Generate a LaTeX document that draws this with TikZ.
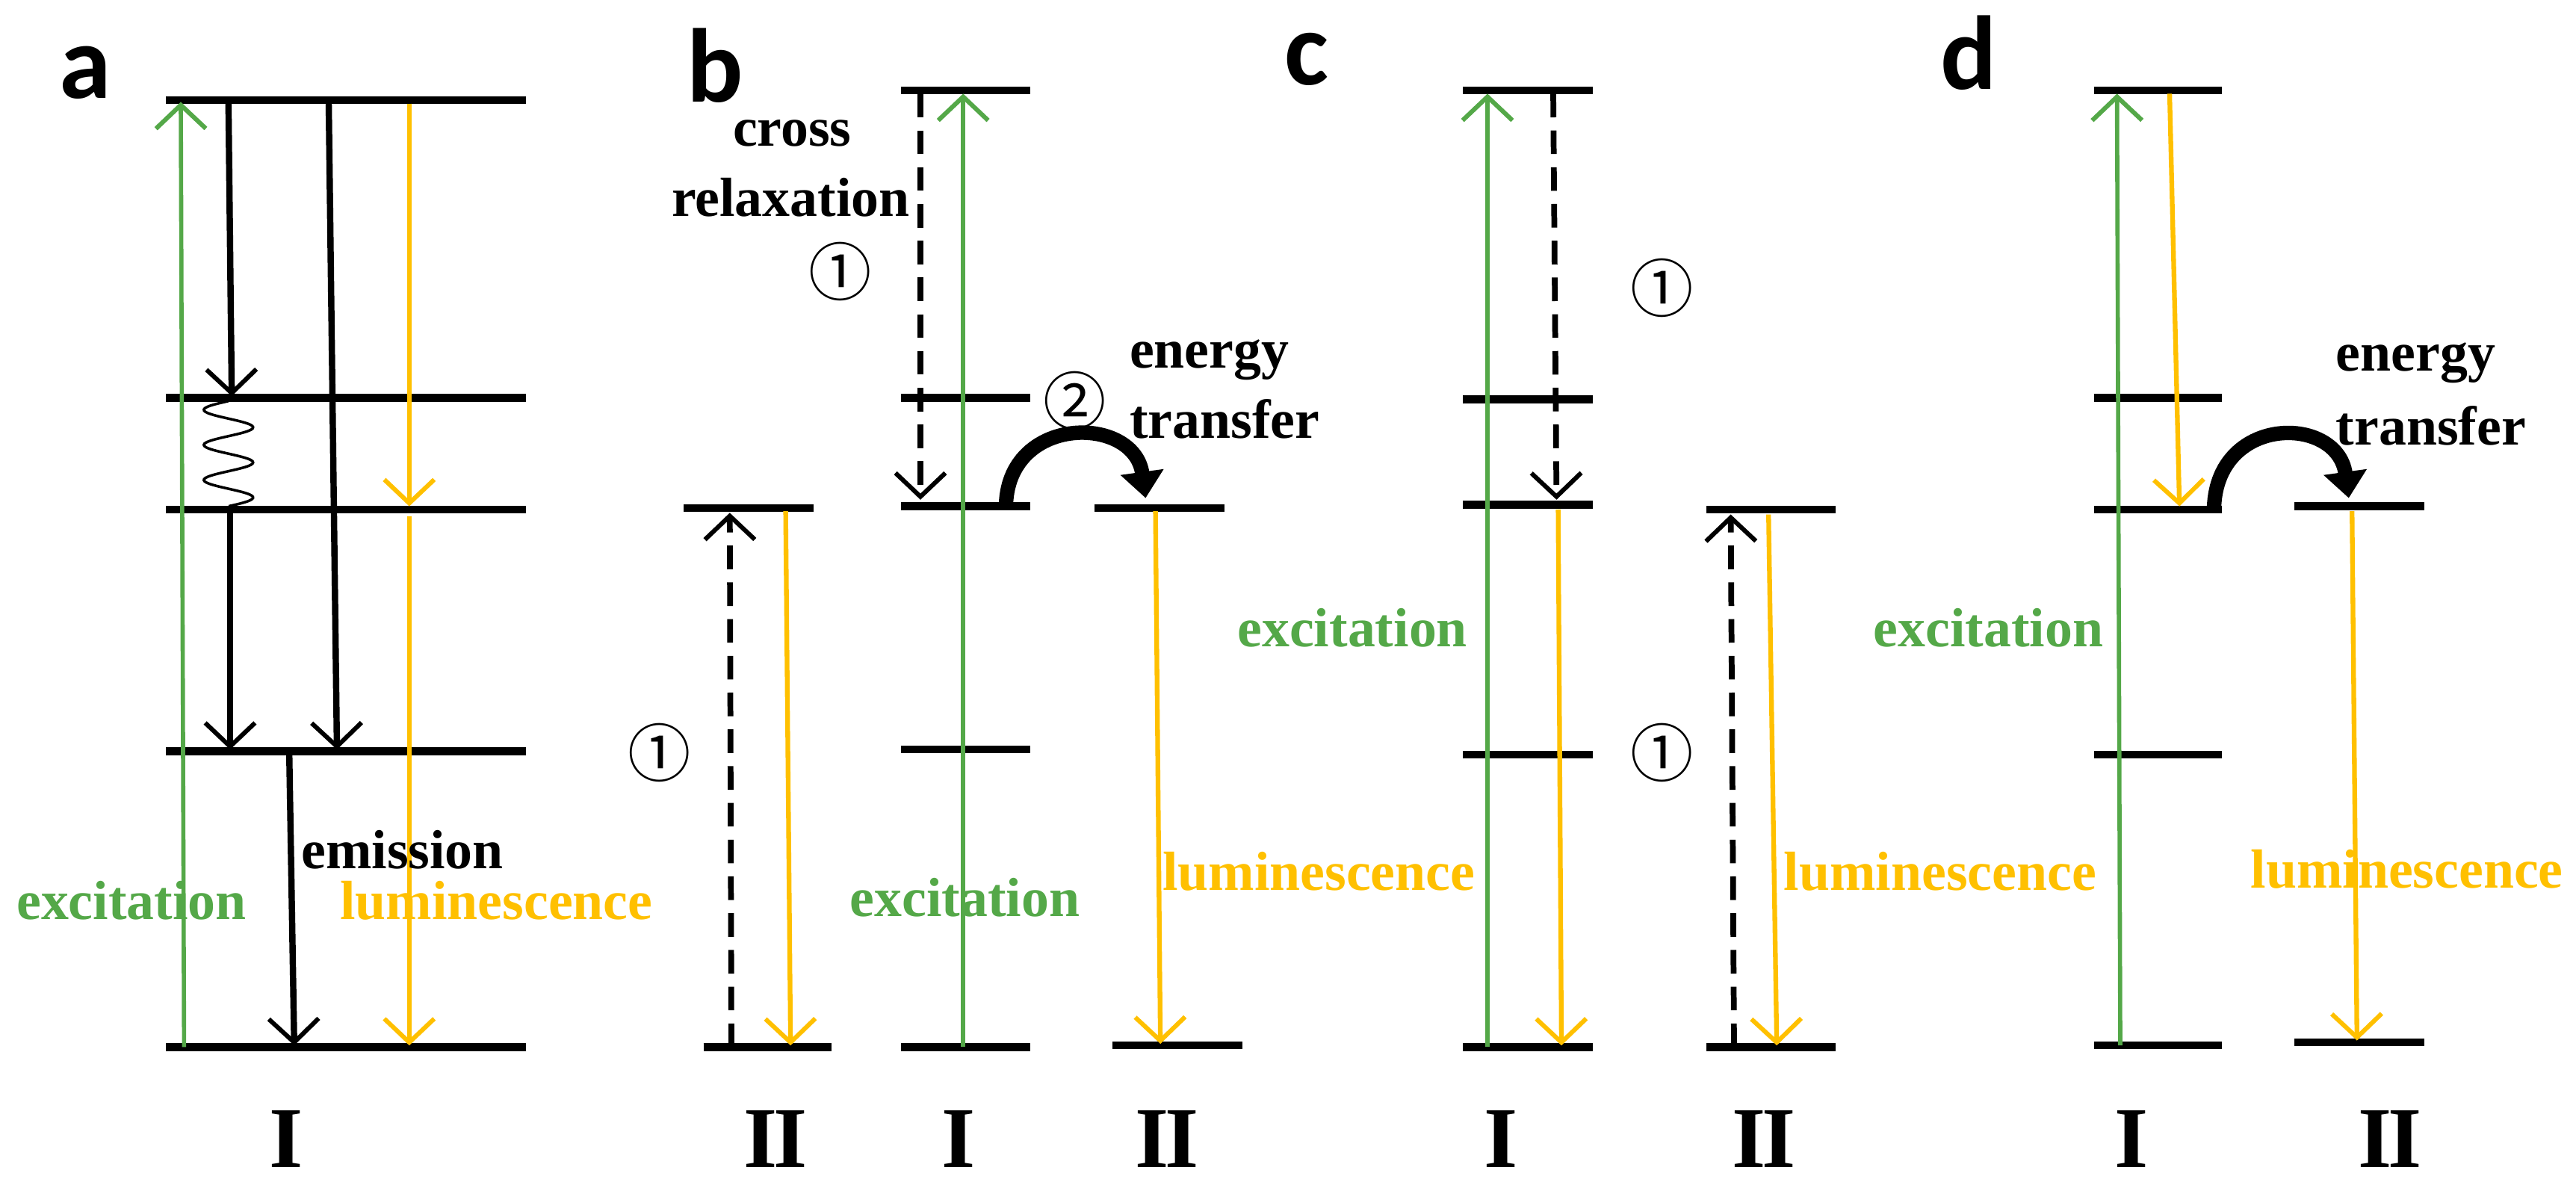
\documentclass[tikz,border=0pt]{standalone}
\usepackage{fontspec}
\setmainfont{Liberation Serif}
\newfontfamily\serb{Liberation Serif Bold}
\newfontfamily\sansb{Carlito Bold}
\newfontfamily\cjk{Noto Sans CJK SC}
\usetikzlibrary{arrows.meta}
\definecolor{gr}{RGB}{84,168,72}
\definecolor{yl}{RGB}{255,192,0}
\begin{document}
\begin{tikzpicture}[x=0.022cm,y=-0.022cm,
  lev/.style={line width=3pt},
  tipv/.style={-{Straight Barb[length=9pt,width=19pt,line width=1.7pt]}},
  exc/.style={gr,line width=1.6pt,tipv},
  lum/.style={yl,line width=1.8pt,tipv},
  blk/.style={black,line width=2.4pt,tipv},
  dsh/.style={black,line width=2.2pt,dash pattern=on 9pt off 5pt,tipv},
  et/.style={line width=5.5pt,-{Triangle[length=10pt,width=16pt]}},
  lbl/.style={font=\serb\fontsize{21}{24}\selectfont,inner sep=0pt},
  num/.style={font=\cjk\fontsize{24}{26}\selectfont,inner sep=0pt},
  pan/.style={font=\sansb\fontsize{40}{42}\selectfont,inner sep=0pt},
  rom/.style={font=\serb\fontsize{33}{36}\selectfont,inner sep=0pt}]
\useasboundingbox (0,0) rectangle (1567.27,720.9);
% ---------- panel a
\node[pan] (la) at (52,44) {a};
\foreach \y in {61,242,310,457,637} \draw[lev] (101,\y) -- (320,\y);
\draw[exc] (112,637) -- (110,62);
\draw[blk] (139,63) -- (141,241);
\draw[black,line width=1pt] plot[smooth,domain=0:1,samples=90] ({139-15*sin(1080*\x)},{244+64*\x});
\draw[blk] (140,312) -- (140,456);
\draw[blk] (200,63) -- (205,456);
\draw[blk] (176,459) -- (179,636);
\draw[lum] (249,63) -- (249,308);
\draw[lum] (249,314) -- (249,636);
\node[lbl,anchor=west] (em) at (183,517) {emission};
\node[lbl,gr] (exa) at (80,548) {excitation};
\node[lbl,yl] (lua) at (302,548) {luminescence};
\node[rom] (ra) at (174,693) {I};
% ---------- panel b
\node[pan] (lb) at (435,40) {b};
\draw[lev] (416,309) -- (495,309);
\draw[lev] (428,637) -- (506,637);
\foreach \y in {55,242,308,456,637} \draw[lev] (548,\y) -- (627,\y);
\draw[lev] (666,309) -- (745,309);
\draw[lev] (677,636) -- (756,636);
\draw[dsh] (445,637) -- (444,312);
\draw[lum] (478,311) -- (481,636);
\draw[exc] (586,637) -- (586,57);
\draw[dsh] (560,57) -- (560,304);
\draw[et] (612,309) .. controls (612,252) and (690,252) .. (697,303);
\draw[lum] (703,311) -- (706,635);
\node[lbl] (cr1) at (482,81) {cross};
\node[lbl] (cr2) at (481,120) {relaxation};
\node[num] (n1b) at (511,165) {①};
\node[num] (n2b) at (654,244) {②};
\node[num] (n3b) at (401,458) {①};
\node[lbl,anchor=west] (eb1) at (687,219) {energy};
\node[lbl,anchor=west] (eb2) at (687,255) {transfer};
\node[lbl,gr] (exb) at (587,546) {excitation};
\node[lbl,yl,anchor=west] (lub) at (707,530) {luminescence};
\node[rom] (rb1) at (472,693) {I\kern-1.5ptI};
\node[rom] (rb2) at (583,693) {I};
\node[rom] (rb3) at (710,693) {I\kern-1.5ptI};
% ---------- panel c
\node[pan] (lc) at (795,36) {c};
\foreach \y in {55,243,307,459,637} \draw[lev] (890,\y) -- (969,\y);
\draw[lev] (1038,310) -- (1117,310);
\draw[lev] (1038,637) -- (1117,637);
\draw[exc] (905,637) -- (905,57);
\draw[dsh] (945,57) -- (947,304);
\draw[lum] (948,310) -- (950,636);
\draw[dsh] (1055,637) -- (1053,313);
\draw[lum] (1076,313) -- (1081,636);
\node[num] (n1c) at (1011,175) {①};
\node[num] (n2c) at (1011,458) {①};
\node[lbl,gr,anchor=east] (exc) at (893,382) {excitation};
\node[lbl,yl,anchor=west] (luc) at (1085,530) {luminescence};
\node[rom] (rc1) at (913,693) {I};
\node[rom] (rc2) at (1073,693) {I\kern-1.5ptI};
% ---------- panel d
\node[pan] (ld) at (1198,32) {d};
\foreach \y in {55,242,310,459,636} \draw[lev] (1274,\y) -- (1352,\y);
\draw[lev] (1396,308) -- (1475,308);
\draw[lev] (1396,634) -- (1475,634);
\draw[exc] (1290,636) -- (1288,57);
\draw[lum] (1320,57) -- (1326,308);
\draw[et] (1347,311) .. controls (1347,252) and (1422,252) .. (1429,303);
\draw[lum] (1431,311) -- (1434,633);
\node[lbl,anchor=west] (ed1) at (1421,221) {energy};
\node[lbl,anchor=west] (ed2) at (1421,259) {transfer};
\node[lbl,gr,anchor=east] (exd) at (1280,382) {excitation};
\node[lbl,yl,anchor=west] (lud) at (1369,529) {luminescence};
\node[rom] (rd1) at (1297,693) {I};
\node[rom] (rd2) at (1454,693) {I\kern-1.5ptI};
\end{tikzpicture}
\end{document}
